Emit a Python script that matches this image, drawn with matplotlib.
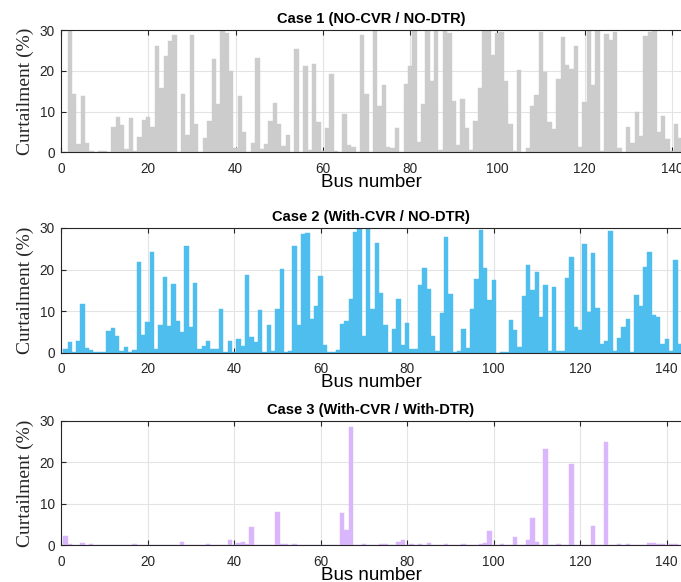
import matplotlib
matplotlib.use("Agg")
import matplotlib.pyplot as plt
import numpy as np

# curtailment per bus (%), values above 30 clipped by the axis
case1 = [
    0, 30, 14.3, 2.1, 13.7, 2.4, 0.2, 0, 0.4, 0.2,
    0, 6.2, 8.7, 6.8, 0.7, 8.3, 0.3, 3.8, 7.9, 8.7,
    6.3, 26.1, 15.7, 23.7, 27.4, 28.9, 0, 14.3, 4.3, 28.9,
    7.0, 0, 3.5, 7.7, 22.8, 11.9, 30, 29.2, 20, 1.0,
    13.8, 5.1, 0, 2.3, 23.1, 0.8, 2.0, 7.8, 12.1, 6.9,
    1.6, 4.3, 0.1, 25.3, 0, 21.2, 0.6, 21.7, 7.5, 0.4,
    6.0, 19.2, 0.4, 0, 9.3, 1.7, 1.4, 0, 28.7, 14.3,
    0, 30, 11.4, 16.4, 1.4, 1.1, 5.9, 0, 16.8, 21.1,
    30, 2.5, 11.8, 30, 17.5, 30, 0.6, 30, 29.3, 12.7,
    1.9, 13.2, 5.9, 0.6, 7.7, 15.8, 30, 30, 23.9, 29.2,
    29.4, 17.5, 6.9, 0.3, 20.2, 0, 1.0, 11.4, 14.1, 29.5,
    19.6, 7.5, 5.8, 18.1, 28.3, 21.3, 20.4, 26.0, 1.3, 12.3,
    30, 16.5, 30, 0.3, 29.1, 27.6, 29.5, 1.1, 0, 6.2,
    2.3, 9.9, 4.1, 28.5, 29.5, 30, 5.0, 8.9, 3.3, 0.2,
    7.0, 3.4, 0,
]

case2 = [
    0.9, 2.5, 0.1, 2.8, 11.7, 1.1, 0.6, 0.2, 0.2, 0.2,
    5.1, 5.9, 4.0, 0.3, 1.4, 0.2, 0.6, 21.7, 4.2, 7.3,
    24.2, 0.8, 6.7, 18.1, 6.5, 16.5, 7.6, 4.9, 25.6, 6.1,
    16.7, 1.0, 1.6, 2.7, 1.0, 1.0, 10.6, 0.1, 2.8, 0.2,
    3.4, 1.6, 18.6, 3.8, 2.5, 10.3, 0.1, 6.6, 0.4, 10.6,
    20.1, 0.1, 0.3, 25.7, 6.7, 28.5, 28.9, 8.2, 11.2, 18.4,
    1.8, 0.2, 0.2, 0.6, 7.0, 7.6, 12.8, 29.0, 30, 4.0,
    30, 10.6, 26.5, 14.3, 6.7, 0.1, 5.7, 12.9, 1.8, 7.1,
    0.8, 1.0, 16.2, 20.4, 15.2, 4.0, 0.3, 9.5, 27.9, 14.2,
    0.1, 0.5, 5.7, 1.1, 10.5, 17.7, 29.4, 20.4, 12.6, 17.6,
    0, 0.1, 0.1, 7.9, 5.4, 1.4, 13.6, 21.0, 15.1, 19.3,
    8.5, 16.4, 0.5, 15.8, 0.4, 0.4, 18.0, 23.1, 6.3, 5.4,
    26.2, 9.8, 24.0, 10.7, 2.1, 2.7, 29.3, 0.5, 3.5, 6.2,
    8.1, 0.1, 13.8, 11.2, 20.6, 24.1, 9.0, 8.5, 2.1, 3.4,
    0.3, 22.2, 2.1,
]

case3 = [
    2.3, 0.2, 0.1, 0.1, 0.6, 0.1, 0.3, 0.1, 0.1, 0.1,
    0.1, 0.1, 0.1, 0.1, 0.1, 0.1, 0.25, 0.1, 0.1, 0.1,
    0.1, 0.1, 0.1, 0.1, 0.1, 0.1, 0.1, 0.9, 0.1, 0.1,
    0.1, 0.1, 0.1, 0.3, 0.1, 0.1, 0.1, 0.1, 1.2, 0.1,
    0.6, 0.8, 0.2, 4.4, 0.1, 0.1, 0.1, 0.1, 0.1, 8.1,
    0.3, 0.3, 0.1, 0.3, 0.1, 0.1, 0.1, 0.15, 0.1, 0.1,
    0.1, 0.1, 0.1, 0.1, 7.8, 3.6, 28.6, 0.1, 0.1, 0.3,
    0.1, 0.1, 0.1, 0.2, 0.2, 0.1, 0.1, 0.8, 1.3, 0.1,
    0.2, 0.1, 0.2, 0.1, 0.6, 0.1, 0.1, 0.1, 0.2, 0.1,
    0.1, 0.1, 0.2, 0.1, 0.1, 0.1, 0.25, 0.55, 3.5, 0.1,
    0.1, 0.3, 0.1, 0.1, 2.0, 0.1, 0.1, 1.2, 6.5, 0.7,
    0.1, 23.2, 0.1, 0.1, 0.2, 0.1, 0.1, 19.6, 0.1, 0.1,
    0.1, 0.1, 4.7, 0.1, 0.1, 24.9, 0.1, 0.1, 0.2, 0.1,
    0.2, 0.1, 0.1, 0.1, 0.1, 0.5, 0.6, 0.2, 0.3, 0.1,
    0.2, 0.2, 0.1,
]

titles = [
    "Case 1 (NO-CVR / NO-DTR)",
    "Case 2 (With-CVR / NO-DTR)",
    "Case 3 (With-CVR / With-DTR)",
]
colors = ["#cccccc", "#4dbeee", "#dab6fc"]
xmax = [142.1, 143.3, 143.3]
series = [case1, case2, case3]

AX_COL = "#262626"
plt.rcParams["font.family"] = ["Liberation Sans", "DejaVu Sans"]

fig = plt.figure(figsize=(6.81, 5.82), dpi=100)

# axes boxes in figure fractions (left, bottom, width, height)
boxes = [
    (0.0896, 0.7383, 0.9104, 0.2101),
    (0.0896, 0.3940, 0.9104, 0.2143),
    (0.0896, 0.0631, 0.9104, 0.2136),
]

for i in range(3):
    ax = fig.add_axes(boxes[i])
    vals = np.array(series[i])
    buses = np.arange(1, len(vals) + 1)
    ax.bar(buses, vals, width=1.0, color=colors[i], edgecolor=colors[i],
           linewidth=0.3, zorder=2)

    ax.set_xlim(0, xmax[i])
    ax.set_ylim(0, 30)
    ax.set_xticks(np.arange(0, 141, 20))
    ax.set_yticks([0, 10, 20, 30])

    ax.grid(True, color="#e3e3e3", linewidth=0.8, zorder=0)
    ax.set_axisbelow(True)

    for side in ["left", "top", "bottom"]:
        ax.spines[side].set_color(AX_COL)
        ax.spines[side].set_linewidth(0.8)
    ax.spines["right"].set_visible(False)

    ax.tick_params(axis="both", direction="in", length=3.5, width=0.8,
                   colors=AX_COL, labelsize=9.8, top=True)
    ax.tick_params(axis="x", pad=7)
    ax.tick_params(axis="y", pad=4.5)

    ax.set_title(titles[i], fontsize=10.5, fontweight="bold", pad=5,
                 color="black")
    ax.set_xlabel("Bus number", fontsize=13.5, labelpad=-1.5, color="black")
    ax.set_ylabel("Curtailment (%)", fontsize=14, family="Liberation Serif",
                  labelpad=4, color=AX_COL)

fig.savefig("out.png", dpi=100)
